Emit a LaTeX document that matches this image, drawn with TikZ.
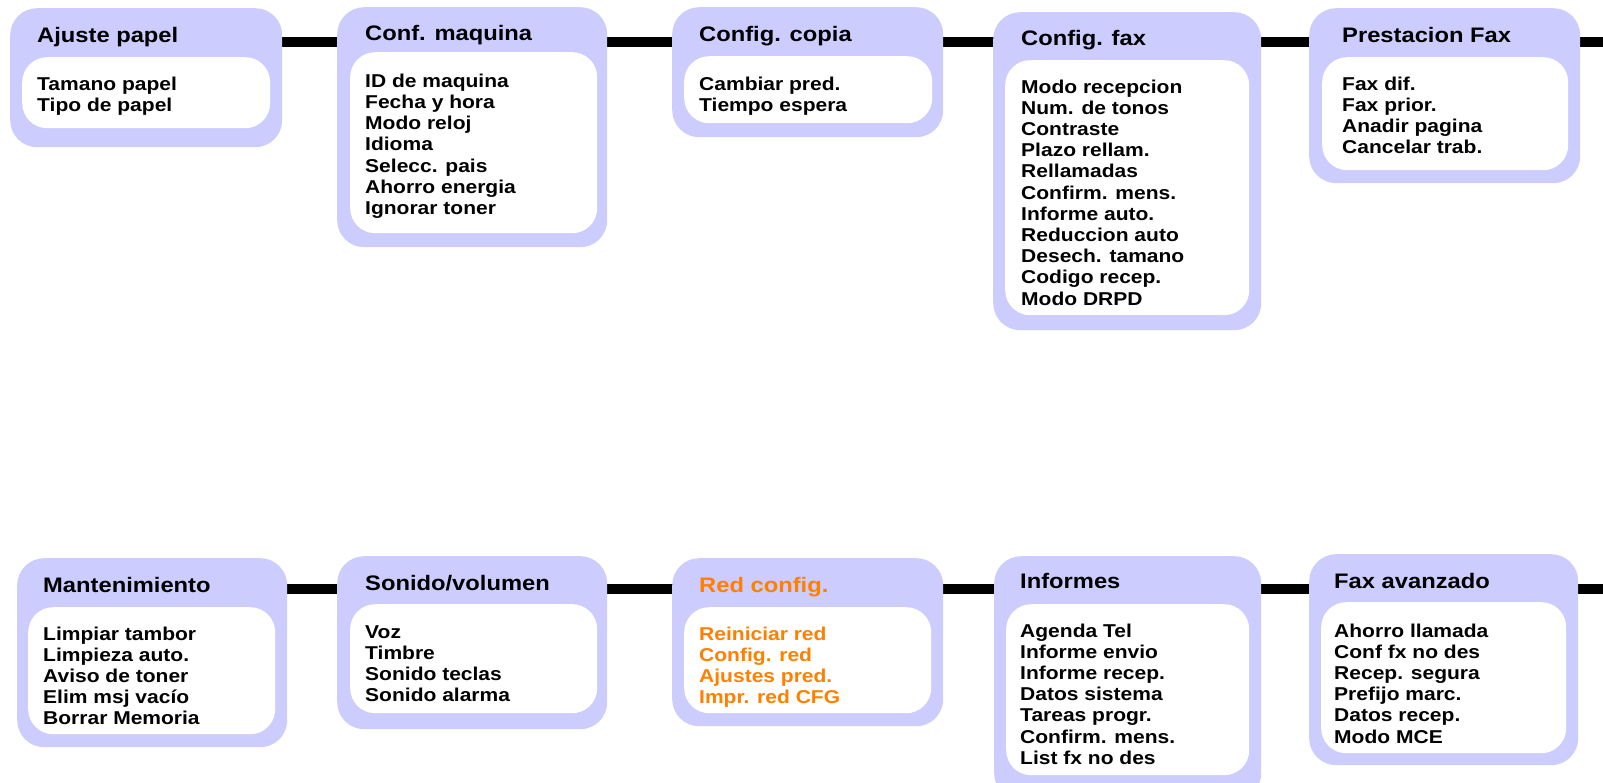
\documentclass[tikz,border=0pt]{standalone}
\usepackage{fontspec}
\setmainfont{Liberation Sans}[FakeStretch=1.13]
\usetikzlibrary{backgrounds}
\definecolor{boxblue}{HTML}{CCCCFF}
\definecolor{netorange}{HTML}{FF8000}
\newcommand\MenuBox[9]{%
  \node[outerbox, minimum width={#4-#2}, minimum height={#5-#3}] (#1) at (#2,#3) {};
  \node[innerbox, minimum width={#8-#6}, minimum height={#9-#7}] (#1-in) at (#6,#7) {};
}
\newcommand\MenuItems[5]{%
  \foreach \t [count=\i from 0] in {#5}
    \node[menuitem, text=#4] (#1-\i) at (#2,{#3+21.2*\i}) {\t};
}
\begin{document}
\begin{tikzpicture}[x=1pt,y=-1pt,
  outerbox/.style={fill=boxblue, rounded corners=27pt, inner sep=0pt, anchor=north west},
  innerbox/.style={fill=white, rounded corners=25pt, inner sep=0pt, anchor=north west},
  menutitle/.style={font=\bfseries\fontsize{21}{25}\selectfont, inner sep=0pt, anchor=base west},
  menuitem/.style={font=\bfseries\fontsize{18.6}{21.2}\selectfont, inner sep=0pt, anchor=base west},
  bar/.style={line width=10pt, black, shorten <=-8pt, shorten >=-8pt}]
\useasboundingbox (0,0) rectangle (1603,782);
\coordinate (topbar) at (0,41.5);
\coordinate (botbar) at (0,589);
\coordinate (rightedge) at (1620,0);

% top row
\MenuBox{A}{10}{8}{282}{147}{22}{57}{270}{128}
\node[menutitle] (A-t) at (37,42) {Ajuste papel};
\MenuItems{A}{37}{90.7}{black}{Tamano papel,Tipo de papel}

\MenuBox{B}{337}{7}{607}{247}{350}{52}{597}{233}
\node[menutitle] (B-t) at (365,40) {Conf. maquina};
\MenuItems{B}{365}{87.3}{black}{ID de maquina,Fecha y hora,Modo reloj,Idioma,Selecc. pais,Ahorro energia,Ignorar toner}

\MenuBox{C}{672}{7}{943}{137}{684}{56}{932}{123}
\node[menutitle] (C-t) at (699,41) {Config. copia};
\MenuItems{C}{699}{90}{black}{Cambiar pred.,Tiempo espera}

\MenuBox{D}{993}{12}{1261}{330}{1005}{60}{1249}{315}
\node[menutitle] (D-t) at (1021,45) {Config. fax};
\MenuItems{D}{1021}{93}{black}{Modo recepcion,Num. de tonos,Contraste,Plazo rellam.,Rellamadas,Confirm. mens.,Informe auto.,Reduccion auto,Desech. tamano,Codigo recep.,Modo DRPD}

\MenuBox{E}{1309}{8}{1580}{183}{1322}{57}{1568}{170}
\node[menutitle] (E-t) at (1342,42) {Prestacion Fax};
\MenuItems{E}{1342}{90}{black}{Fax dif.,Fax prior.,Anadir pagina,Cancelar trab.}

% bottom row
\MenuBox{F}{17}{558}{287}{747}{28}{607}{275}{734}
\node[menutitle] (F-t) at (43,592) {Mantenimiento};
\MenuItems{F}{43}{640}{black}{Limpiar tambor,Limpieza auto.,Aviso de toner,Elim msj vacío,Borrar Memoria}

\MenuBox{G}{337}{556}{607}{729}{350}{604}{597}{713}
\node[menutitle] (G-t) at (365,590) {Sonido/volumen};
\MenuItems{G}{365}{638}{black}{Voz,Timbre,Sonido teclas,Sonido alarma}

\MenuBox{H}{672}{558}{943}{726}{684}{607}{931}{713}
\node[menutitle, text=netorange] (H-t) at (699,592) {Red config.};
\MenuItems{H}{699}{640}{netorange}{Reiniciar red,Config. red,Ajustes pred.,Impr. red CFG}

\MenuBox{I}{994}{556}{1261}{800}{1006}{604}{1249}{775}
\node[menutitle] (I-t) at (1020,588) {Informes};
\MenuItems{I}{1020}{637}{black}{Agenda Tel,Informe envio,Informe recep.,Datos sistema,Tareas progr.,Confirm. mens.,List fx no des}

\MenuBox{J}{1309}{554}{1578}{765}{1321}{602}{1566}{753}
\node[menutitle] (J-t) at (1334,588) {Fax avanzado};
\MenuItems{J}{1334}{637}{black}{Ahorro llamada,Conf fx no des,Recep. segura,Prefijo marc.,Datos recep.,Modo MCE}

\begin{pgfonlayer}{background}
\fill[white] (0,0) rectangle (1603,782);
\draw[bar] (A.east |- topbar) -- (B.west |- topbar);
\draw[bar] (B.east |- topbar) -- (C.west |- topbar);
\draw[bar] (C.east |- topbar) -- (D.west |- topbar);
\draw[bar] (D.east |- topbar) -- (E.west |- topbar);
\draw[bar] (E.east |- topbar) -- (rightedge |- topbar);
\draw[bar] (F.east |- botbar) -- (G.west |- botbar);
\draw[bar] (G.east |- botbar) -- (H.west |- botbar);
\draw[bar] (H.east |- botbar) -- (I.west |- botbar);
\draw[bar] (I.east |- botbar) -- (J.west |- botbar);
\draw[bar] (J.east |- botbar) -- (rightedge |- botbar);
\end{pgfonlayer}
\end{tikzpicture}
\end{document}
